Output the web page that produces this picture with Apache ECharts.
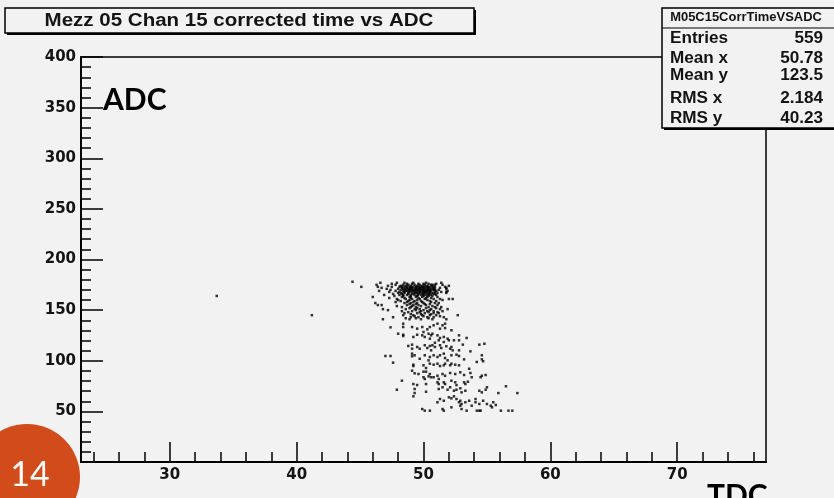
<!DOCTYPE html>
<html>
<head>
<meta charset="utf-8">
<script src="https://cdn.jsdelivr.net/npm/echarts@6/dist/echarts.min.js"></script>
<style>
  html, body { margin: 0; padding: 0; background: #f2f2f2; }
  #main { width: 834px; height: 498px; }
</style>
</head>
<body>
<div id="main"></div>
<script>
// tick labels
var xLabels = [30, 40, 50, 60, 70];
var xMinor = [24, 26, 28, 32, 34, 36, 38, 42, 44, 46, 48, 52, 54, 56, 58, 62, 64, 66, 68, 72, 74, 76];

// stats box
var statNames = ['Entries', 'Mean x', 'Mean y', 'RMS x', 'RMS y'];
var statValues = ['559', '50.78', '123.5', '2.184', '40.23'];

// points (TDC, ADC)
// dense top part: [ADC, [TDC values on that row]]
var topRows = [
    [178, [44.4]],
    [177, [46.6, 47.9, 48.5, 49.2, 50.2, 51.4]],
    [176, [47.5, 48.7, 49.1, 49.6, 50.0, 50.4, 51.0]],
    [175, [46.3, 47.8, 48.4, 48.8, 49.3, 49.7, 50.1, 50.6, 50.9, 51.5, 50.7]],
    [174, [47.2, 48.2, 48.6, 49.0, 49.5, 49.9, 50.3, 50.7, 52.0]],
    [173, [45.1, 46.4, 47.5, 48.1, 48.5, 48.9, 49.2, 49.6, 49.9, 50.2, 50.5, 50.9, 51.7]],
    [173, [48.3, 48.7, 49.05, 49.4, 49.75, 50.05, 50.35, 50.7]],
    [172, [46.7, 48.3, 48.7, 49.0, 49.4, 49.7, 50.0, 50.4, 50.8, 51.3, 51.8]],
    [171, [47.1, 48.0, 48.4, 48.8, 49.1, 49.3, 49.6, 49.9, 50.1, 50.4, 50.6, 50.9, 51.8]],
    [171, [48.55, 48.95, 49.45, 49.75, 50.25, 50.75]],
    [170, [47.4, 48.2, 48.6, 48.9, 49.2, 49.5, 49.7, 50.0, 50.3, 50.5, 50.8, 51.2, 50.85]],
    [169, [46.5, 47.8, 48.4, 48.7, 49.0, 49.3, 49.6, 49.8, 50.1, 50.4, 50.6, 51.0, 51.9]],
    [169, [48.55, 48.85, 49.15, 49.45, 49.95, 50.25, 50.5]],
    [168, [47.3, 48.1, 48.5, 48.9, 49.4, 49.7, 50.0, 50.2, 50.5, 50.9, 51.4, 51.8]],
    [167, [48.0, 48.5, 49.1, 49.5, 49.9, 50.3, 50.7, 51.1, 51.8]],
    [167, [48.25, 48.8, 49.3, 49.7, 50.1, 50.5]],
    [166, [47.6, 48.3, 48.8, 49.2, 49.6, 50.0, 50.4, 50.8, 50.9]],
    [165, [46.9, 48.1, 48.7, 49.3, 49.8, 50.2, 50.6, 51.0]],
    [165, [48.4, 49.0, 49.55, 50.0, 50.4]],
    [164, [47.7, 48.4, 49.0, 49.5, 50.0, 50.4, 50.7]],
    [163, [46.0, 48.3, 48.9, 49.4, 49.9, 50.3, 51.1]],
    [162, [47.3, 48.5, 49.0, 49.6, 50.2, 50.6]],
    [161, [47.9, 48.6, 49.1, 49.7, 50.1, 50.8, 51.3, 52.0, 52.3]],
    [160, [48.0, 48.9, 49.5, 50.3, 51.5]],
    [159, [48.2, 48.8, 49.3, 49.8, 50.5, 51.0]],
    [158, [47.8, 48.7, 49.2, 49.9, 50.6]],
    [157, [46.2, 48.5, 49.0, 49.5, 50.0, 50.9, 51.2]],
    [156, [48.9, 49.4, 50.1, 50.5]],
    [155, [46.4, 46.7, 48.7, 49.2, 49.6, 50.2, 51.1]],
    [154, [47.9, 49.1, 49.8, 50.7]],
    [153, [48.3, 49.0, 49.4, 50.4, 50.9, 51.4]],
    [152, [48.9, 49.5, 50.2, 51.0]],
    [151, [46.8, 48.6, 49.3, 49.7, 50.6, 51.3, 51.9]],
    [150, [47.2, 49.4, 50.0, 50.5]],
    [149, [48.3, 49.1, 49.8, 50.3, 50.8, 51.5]],
    [148, [48.8, 49.7, 50.4, 51.1]],
    [147, [48.5, 49.5, 50.1, 50.8, 51.2]],
    [146, [49.0, 49.8, 50.6]],
    [145, [41.2, 48.4, 49.2, 49.9, 50.5, 51.0, 52.7]],
    [144, [49.3, 50.0, 51.3]],
    [143, [47.6, 49.0, 49.6, 50.3, 50.8, 51.6]],
    [142, [48.6, 49.4, 50.4]],
    [141, [46.8, 48.9, 49.8, 50.7, 51.8]],
    [164, [33.7]]
];

var midBand = [
    [47.4, 133], [48.4, 136.6], [48.4, 133.3], [48.0, 126.7], [48.4, 125.7], [48.4, 124.4],
    [49.1, 133.3], [49.5, 131.7], [49.9, 133.3], [50.3, 131], [50.5, 133.3],
    [49.2, 123.5], [49.5, 125.7], [49.9, 125.1], [50.0, 128.4], [50.1, 123.5], [50.4, 126.7], [50.5, 121.8], [50.6, 125.1],
    [48.8, 114.6], [49.1, 115.9], [49.1, 111.9], [49.5, 113.6], [49.7, 111.9], [50.1, 115.3], [50.3, 112.6], [50.5, 114.6], [50.6, 110.3],
    [47.4, 104.7], [47.0, 104.7], [47.6, 98.1],
    [49.1, 107], [49.1, 104.4], [49.3, 105.4], [49.7, 102], [50.1, 105.4], [50.4, 100.4], [50.5, 103.7],
    [49.2, 96.1], [49.2, 94.8], [50.0, 95.5], [50.2, 92.8], [50.5, 97.1],
    [50.8, 135], [51.1, 136.6], [51.5, 135], [51.7, 136.6], [51.3, 131.7], [51.7, 132.3], [52.2, 130.1],
    [50.7, 126.7], [51.1, 125.1], [51.3, 122.5], [51.6, 123.5], [51.9, 121.8], [52.0, 120.2], [51.2, 120.2], [50.9, 117.8],
    [51.6, 118.5], [52.4, 120.2], [52.8, 120.2], [52.8, 125.1], [53.4, 122.5],
    [50.7, 115.3], [50.9, 113.6], [51.3, 115.3], [51.4, 112.6], [51.8, 114.3], [52.1, 111.9], [52.2, 113.6], [52.3, 110.3],
    [52.8, 110.3], [53.1, 115.9], [53.7, 109.3], [54.4, 115.9], [54.8, 116.8],
    [50.8, 105.4], [51.1, 103.7], [51.3, 105.4], [51.6, 107], [51.7, 102.7], [51.9, 100.4], [52.2, 105.4], [52.6, 106],
    [52.8, 104.7], [53.2, 101.4], [54.2, 98.8], [54.6, 105.4], [54.6, 101.4], [54.7, 99.5],
    [50.8, 96.1], [51.1, 97.1], [51.3, 94.8], [51.6, 95.5], [51.7, 97.1], [52.1, 95.5], [52.2, 97.1], [52.5, 96.1], [52.8, 95.5], [53.6, 92.1]
];

var lowBand = [
    [49.1, 90.2], [49.3, 87.6], [49.6, 86.9], [48.3, 80.3], [49.2, 77], [49.5, 76],
    [50.0, 89.2], [50.2, 89.2], [50.4, 84.6], [50.5, 86.9], [50.6, 83.7], [50.1, 82], [50.0, 83.7], [50.2, 77],
    [47.9, 71.4], [49.3, 72.1], [49.3, 68.1], [49.2, 64.9], [50.2, 69.4],
    [49.9, 52.3], [50.1, 50.7], [50.5, 50.7],
    [50.8, 83.7], [51.1, 85.2], [51.2, 82], [51.5, 86.9], [51.7, 85.2], [52.1, 87.9], [52.5, 86.9], [52.9, 88.6],
    [53.2, 85.9], [53.7, 87.9], [53.8, 83.7], [54.5, 83.7], [54.6, 85.2], [54.9, 85.9],
    [51.1, 78.7], [51.2, 77], [51.6, 78.7], [51.7, 77], [52.2, 80.3], [52.5, 78.7], [52.6, 76], [53.2, 78.7], [53.3, 77], [53.5, 79.3],
    [51.2, 72.1], [51.5, 73.8], [51.9, 71.4], [52.1, 73.8], [52.4, 70.4], [52.6, 71.4], [52.9, 72.8], [53.0, 68.8],
    [53.3, 70.4], [54.4, 70.4], [54.6, 68.8], [55.0, 73.8], [54.9, 71.4], [55.9, 68.1], [56.5, 74.8], [57.4, 68.1],
    [51.3, 62.2], [51.6, 60.5], [52.0, 63.9], [52.2, 62.9], [52.4, 64.9], [52.6, 62.2], [52.8, 59], [52.9, 60.5],
    [53.0, 57.3], [53.3, 59], [53.6, 60.5], [54.1, 62.2], [54.1, 59], [54.4, 57.3], [54.7, 60.5], [55.0, 57.3],
    [55.3, 55.6], [55.5, 59], [55.7, 56.3], [51.1, 59],
    [51.5, 52.3], [51.6, 50.7], [52.2, 54], [52.9, 55.6], [53.0, 52.3], [53.4, 50.7], [53.8, 55.6], [54.2, 50.7],
    [54.4, 50.7], [54.5, 50.7], [55.4, 54], [56.1, 50.7], [56.7, 50.7], [57.0, 50.7]
];

var points = [];
topRows.forEach(function (row) {
    row[1].forEach(function (x) { points.push([x, row[0]]); });
});
points = points.concat(midBand, lowBand);

var black = '#000';
var txt = '#141414';
var labelFont = { fontFamily: 'DejaVu Sans', fontWeight: 'bold', fontSize: 15, color: txt };
var rootFont = '"Liberation Sans", Arial, sans-serif';

var graphics = [
    // title box
    { type: 'rect', shape: { x: 7, y: 10, width: 469, height: 25 }, style: { fill: black } },
    { type: 'rect', shape: { x: 5, y: 8, width: 469, height: 25 }, style: { fill: '#f2f2f2', stroke: black, lineWidth: 1.5 } },
    { type: 'text', x: 239, y: 21, scaleX: 1.14, style: { text: 'Mezz 05 Chan 15 corrected time vs ADC', x: 0, y: 0,
        textAlign: 'center', textVerticalAlign: 'middle', font: 'bold 18px ' + rootFont, fill: txt } },
    // stats box
    { type: 'rect', shape: { x: 664, y: 10, width: 180, height: 120 }, style: { fill: black } },
    { type: 'rect', shape: { x: 662, y: 8, width: 180, height: 120 }, style: { fill: '#f2f2f2', stroke: black, lineWidth: 1.5 } },
    { type: 'line', shape: { x1: 662, y1: 28, x2: 834, y2: 28 }, style: { stroke: black, lineWidth: 1.2 } },
    { type: 'text', x: 746, y: 18, scaleX: 1.08, style: { text: 'M05C15CorrTimeVSADC', x: 0, y: 0, textAlign: 'center', textVerticalAlign: 'middle',
        font: 'bold 12px ' + rootFont, fill: txt } }
];
var statY = [39, 59, 76, 99, 119];
statNames.forEach(function (name, i) {
    graphics.push({ type: 'text', x: 670, y: statY[i], scaleX: 1.07, style: { text: name, x: 0, y: 0, textAlign: 'left', textVerticalAlign: 'middle',
        font: 'bold 16px ' + rootFont, fill: txt } });
    graphics.push({ type: 'text', x: 823, y: statY[i], scaleX: 1.07, style: { text: statValues[i], x: 0, y: 0, textAlign: 'right', textVerticalAlign: 'middle',
        font: 'bold 16px ' + rootFont, fill: txt } });
});
// slide overlays
graphics.push(
    { type: 'text', style: { text: 'ADC', x: 103, y: 100, textAlign: 'left', textVerticalAlign: 'middle',
        font: 'bold 30px Lato, "Open Sans", sans-serif', fill: black } },
    { type: 'text', style: { text: 'TDC', x: 707, y: 496, textAlign: 'left', textVerticalAlign: 'middle',
        font: 'bold 30px Lato, "Open Sans", sans-serif', fill: black } },
    { type: 'circle', shape: { cx: 27, cy: 477, r: 53 }, style: { fill: '#d24b1b' } },
    { type: 'text', style: { text: '14', x: 30, y: 475, textAlign: 'center', textVerticalAlign: 'middle',
        font: '34px Lato, "Open Sans", sans-serif', fill: '#fff' } }
);

var chart = echarts.init(document.getElementById('main'));
chart.setOption({
    backgroundColor: '#f2f2f2',
    animation: false,
    grid: {
        left: 81, right: 68, top: 57, bottom: 36,
        show: true, borderColor: black, borderWidth: 1.5
    },
    xAxis: [
        {
            type: 'value', min: 23, max: 77,
            axisLine: { lineStyle: { color: black, width: 2 } },
            axisTick: { inside: true, length: 20, customValues: xLabels, lineStyle: { color: black, width: 1.5 } },
            axisLabel: Object.assign({ customValues: xLabels, margin: 6 }, labelFont),
            splitLine: { show: false }
        },
        {
            type: 'value', min: 23, max: 77, position: 'bottom',
            axisLine: { show: false },
            axisTick: { inside: true, length: 10, customValues: xMinor, lineStyle: { color: black, width: 1.5 } },
            axisLabel: { show: false },
            splitLine: { show: false }
        }
    ],
    yAxis: {
        type: 'value', min: 0, max: 400, interval: 50,
        axisLine: { show: true, lineStyle: { color: black, width: 2 } },
        axisTick: { show: true, inside: true, length: 22, lineStyle: { color: black, width: 1.5 } },
        minorTick: { show: true, splitNumber: 5, length: 10, lineStyle: { color: black, width: 1.5 } },
        axisLabel: Object.assign({ showMinLabel: false, margin: 5 }, labelFont),
        splitLine: { show: false }
    },
    series: [{
        type: 'scatter',
        data: points,
        symbol: 'rect',
        symbolSize: 2.5,
        itemStyle: { color: '#000' },
        silent: true
    }],
    graphic: graphics
});
</script>
</body>
</html>
